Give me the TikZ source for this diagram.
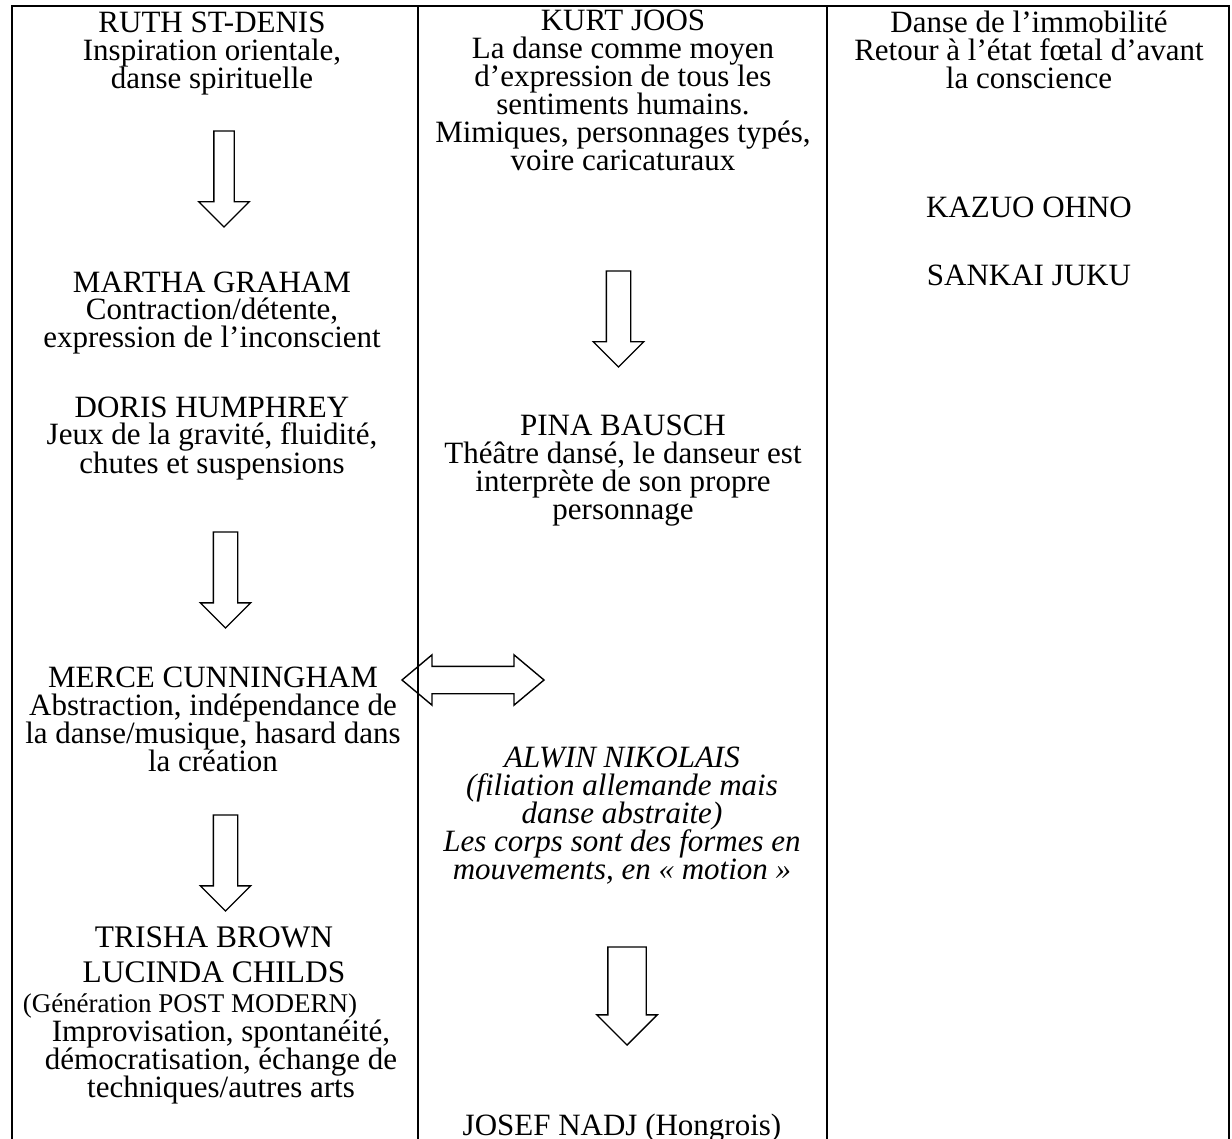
\documentclass[tikz,border=0pt]{standalone}
\usepackage{fontspec}
\setmainfont{Liberation Serif}
\usetikzlibrary{shapes.arrows}
\newcommand{\bodyfont}{\fontsize{15.5}{14}\selectfont\lineskiplimit=-\maxdimen}
\newcommand{\namefont}{\fontsize{15.7}{17.5}\selectfont\lineskiplimit=-\maxdimen}
\newcommand{\smallfont}{\fontsize{13.5}{14}\selectfont\lineskiplimit=-\maxdimen}
\tikzset{
  blocktext/.style={align=center, inner sep=0pt, anchor=base, font=\bodyfont},
  italictext/.style={blocktext, font=\bodyfont\itshape},
  downarrow/.style={
    single arrow,
    draw,
    line width=0.7pt,
    rotate=-90,
    anchor=tail,
    outer sep=0pt,
    inner xsep=0pt,
    inner ysep=5.75pt,
    minimum width=0pt,
    single arrow head extend=6.5pt,
    minimum height=48pt
  },
  bothways/.style={
    double arrow,
    draw,
    line width=0.7pt,
    outer sep=0pt,
    inner xsep=0pt,
    inner ysep=6.5pt,
    minimum width=0pt,
    double arrow head extend=5.75pt,
    double arrow tip angle=80,
    minimum height=71pt
  },
  rule/.style={line width=1.2pt}
}

\begin{document}
\begin{tikzpicture}[x=0.5pt,y=-0.5pt]
\useasboundingbox (0,0) rectangle (1232,1139);

% table rules
\draw[rule] (12,1139) -- (12,6) -- (1229,6) -- (1229,1139);
\draw[rule] (418,6) -- (418,1139);
\draw[rule] (827,6) -- (827,1139);

% first column (nodes sit on the baseline of their last line)
\node[blocktext] (ruth) at (212,89)
  {RUTH ST-DENIS\\Inspiration orientale,\\danse spirituelle};
\node[blocktext] (martha) at (212,348)
  {MARTHA GRAHAM\\Contraction/détente,\\expression de l’inconscient};
\node[blocktext] (doris) at (212,473)
  {DORIS HUMPHREY\\Jeux de la gravité, fluidité,\\chutes et suspensions};
\node[blocktext] (merce) at (213,771)
  {MERCE CUNNINGHAM\\Abstraction, indépendance de\\la danse/musique, hasard dans\\la création};
\node[blocktext,font=\namefont] (trisha) at (214,982)
  {TRISHA BROWN\\LUCINDA CHILDS};
\node[blocktext,font=\smallfont] (gen) at (190,1012)
  {(Génération POST MODERN)};
\node[blocktext] (impro) at (221,1097)
  {Improvisation, spontanéité,\\démocratisation, échange de\\techniques/autres arts};

% second column
\node[blocktext] (kurt) at (623,171)
  {KURT JOOS\\La danse comme moyen\\d’expression de tous les\\sentiments humains.\\Mimiques, personnages typés,\\voire caricaturaux};
\node[blocktext] (pina) at (623,519)
  {PINA BAUSCH\\Théâtre dansé, le danseur est\\interprète de son propre\\personnage};
\node[italictext] (alwin) at (622,879)
  {ALWIN NIKOLAIS\\(filiation allemande mais\\danse abstraite)\\Les corps sont des formes en\\mouvements, en «~motion~»};
\node[blocktext] (josef) at (622,1135)
  {JOSEF NADJ (Hongrois)};

% third column
\node[blocktext] (immob) at (1029,89)
  {Danse de l’immobilité\\Retour à l’état fœtal d’avant\\la conscience};
\node[blocktext] (kazuo) at (1029,218) {KAZUO OHNO};
\node[blocktext] (sankai) at (1029,286) {SANKAI JUKU};

% block arrows
\node[downarrow,inner ysep=4.75pt,single arrow head extend=7.5pt] (ar1) at (224,131) {};
\node[downarrow] (ar2) at (225.5,532) {};
\node[downarrow] (ar3) at (225.5,815) {};
\node[downarrow] (ar4) at (618.5,271) {};
\node[downarrow,inner ysep=9.25pt,single arrow head extend=5.5pt,minimum height=49pt] (ar5) at (627,947) {};
\node[bothways] (link) at (473,680) {};

\end{tikzpicture}
\end{document}
